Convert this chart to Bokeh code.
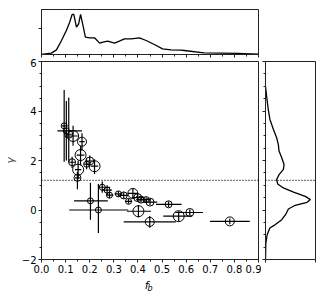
from bokeh.plotting import figure
from bokeh.layouts import column, row
from bokeh.models import Range1d, FixedTicker, Span, CustomJSTickFormatter
from bokeh.core.properties import value
from bokeh.embed import file_html
from bokeh.resources import INLINE

# ---------------- data ----------------
fb = [0.094, 0.103, 0.113, 0.131, 0.168, 0.162, 0.127, 0.152, 0.149, 0.200, 0.220, 0.187,
      0.252, 0.272, 0.282, 0.319, 0.341, 0.361, 0.379, 0.399, 0.413, 0.434, 0.450, 0.527,
      0.402, 0.449, 0.569, 0.615, 0.781, 0.203, 0.236]
gamma = [3.40, 3.20, 3.06, 2.99, 2.76, 2.22, 1.93, 1.63, 1.30, 1.98, 1.77, 1.85,
         0.92, 0.80, 0.60, 0.65, 0.59, 0.35, 0.67, 0.50, 0.42, 0.42, 0.32, 0.23,
         -0.05, -0.48, -0.25, -0.10, -0.46, 0.37, 0.00]
fb_lo = [0.084, 0.066, 0.100, 0.112, 0.157, 0.146, 0.113, 0.139, 0.139, 0.188, 0.205, 0.176,
         0.238, 0.255, 0.268, 0.303, 0.322, 0.346, 0.358, 0.375, 0.393, 0.414, 0.420, 0.475,
         0.355, 0.341, 0.505, 0.555, 0.699, 0.135, 0.115]
fb_hi = [0.104, 0.168, 0.126, 0.150, 0.179, 0.178, 0.141, 0.165, 0.159, 0.212, 0.235, 0.198,
         0.285, 0.292, 0.298, 0.335, 0.360, 0.376, 0.400, 0.423, 0.433, 0.454, 0.480, 0.581,
         0.454, 0.557, 0.625, 0.670, 0.864, 0.275, 0.360]
gamma_lo = [1.95, 2.00, 1.95, 2.60, 2.40, 1.80, 1.70, 1.25, 0.84, 1.75, 1.45, 1.65,
            0.70, 0.60, 0.48, 0.55, 0.45, 0.25, 0.45, 0.35, 0.30, 0.32, 0.20, 0.12,
            -0.30, -0.72, -0.45, -0.22, -0.58, -0.39, -0.93]
gamma_hi = [4.85, 4.40, 4.55, 3.40, 3.10, 2.60, 2.15, 2.00, 1.55, 2.20, 2.05, 2.05,
            1.15, 1.00, 0.72, 0.76, 0.72, 0.45, 0.88, 0.65, 0.55, 0.52, 0.44, 0.34,
            0.20, -0.24, -0.05, 0.02, -0.34, 1.10, 1.05]
marker_size = [6, 6, 8, 11, 9, 11, 7, 11, 7, 8, 11, 6,
               6, 6, 6, 6, 7, 6, 10, 8, 7, 6, 8, 7,
               11, 9, 11, 8, 9, 6, 6]

kde_fb = [0.0, 0.041, 0.062, 0.083, 0.103, 0.117, 0.127, 0.134, 0.145, 0.154, 0.162, 0.172,
          0.182, 0.2, 0.22, 0.241, 0.255, 0.275, 0.303, 0.323, 0.344, 0.372, 0.406, 0.434,
          0.468, 0.502, 0.537, 0.578, 0.592, 0.674, 0.743, 0.812, 0.9]
kde_fb_density = [0, 0.13, 0.45, 1.36, 2.33, 3.14, 3.89, 3.89, 2.66, 2.98, 3.89, 2.82,
                  1.68, 1.62, 1.62, 1.10, 1.20, 1.30, 1.10, 1.30, 1.52, 1.52, 1.62, 1.36,
                  0.97, 0.55, 0.45, 0.42, 0.39, 0.16, 0.13, 0.10, 0.03]

kde_gamma = [5.0, 4.62, 4.08, 3.67, 3.26, 2.92, 2.65, 2.38, 2.11, 1.84, 1.64, 1.43, 1.23,
             1.05, 0.89, 0.72, 0.55, 0.42, 0.31, 0.19, 0.04, -0.18, -0.39, -0.60, -0.73,
             -1.0, -1.35, -2.0]
kde_gamma_density = [0, 0.10, 0.26, 0.42, 0.75, 1.07, 1.23, 1.30, 1.56, 1.78, 1.72, 1.30, 1.07,
                     1.17, 1.72, 2.69, 3.82, 4.31, 3.99, 2.85, 2.20, 1.94, 1.56, 0.91, 0.42,
                     0.16, 0.03, 0]

gamma_threshold = 1.2

x_ticks = [0.0, 0.1, 0.2, 0.3, 0.4, 0.5, 0.6, 0.7, 0.8, 0.9]
x_tick_labels = ["0.0", "0.1", "0.2", "0.3", "0.4", "0.5", "0.6", "0.7", "0.8", "0.9"]
x_minor_ticks = [0.05, 0.15, 0.25, 0.35, 0.45, 0.55, 0.65, 0.75, 0.85]
y_ticks = [-2, 0, 2, 4, 6]
y_tick_labels = ["\u22122", "0", "2", "4", "6"]
y_minor_ticks = [-1.5, -1, -0.5, 0.5, 1, 1.5, 2.5, 3, 3.5, 4.5, 5, 5.5]
top_density_ticks = [2.5]
right_density_ticks = [0, 4.8]
x_label_main = "f"
x_label_sub = "b"
y_label = "\u03b3"

# ---------------- style ----------------
FONT = "DejaVu Sans"
EDGE = "#222222"
LEFT = 41       # left border of the left-column figures (page px)
FRAME_W = 217
xr = Range1d(0, 0.9)
yr = Range1d(-2, 6)
blank = CustomJSTickFormatter(code="return ''")


def style(p):
    p.outline_line_color = EDGE
    p.outline_line_width = 1
    p.xgrid.visible = False
    p.ygrid.visible = False
    p.background_fill_color = "white"
    p.border_fill_color = "white"
    for ax in p.axis:
        ax.axis_line_color = EDGE
        ax.major_tick_line_color = EDGE
        ax.minor_tick_line_color = EDGE
        ax.major_tick_in = 0
        ax.minor_tick_in = 0
        ax.major_tick_out = 3
        ax.minor_tick_out = 2
        ax.major_label_text_font = FONT
        ax.major_label_text_font_size = "10px"
        ax.major_label_text_color = "black"
        ax.major_label_standoff = 2


# top marginal
top = figure(width=LEFT + FRAME_W + 3, height=58, x_range=xr, y_range=Range1d(0, 4.37),
             output_backend="svg", toolbar_location=None, min_border_left=LEFT,
             min_border_right=3, min_border_top=9, min_border_bottom=4)
style(top)
top.xaxis.ticker = FixedTicker(ticks=x_ticks, minor_ticks=x_minor_ticks)
top.xaxis.formatter = blank
top.yaxis.ticker = FixedTicker(ticks=top_density_ticks, minor_ticks=[])
top.yaxis.formatter = blank
top.xaxis.major_label_text_font_size = "0px"
top.yaxis.major_label_text_font_size = "0px"
top.line(kde_fb, kde_fb_density, line_color="black", line_width=1.3)

# main scatter
main = figure(width=LEFT + FRAME_W + 3, height=218, x_range=xr, y_range=yr, output_backend="svg",
              toolbar_location=None, min_border_left=LEFT, min_border_right=3,
              min_border_top=3, min_border_bottom=17)
style(main)
main.xaxis.ticker = FixedTicker(ticks=x_ticks, minor_ticks=x_minor_ticks)
main.xaxis.major_label_overrides = dict(zip(x_ticks, x_tick_labels))
main.yaxis.ticker = FixedTicker(ticks=y_ticks, minor_ticks=y_minor_ticks)
main.yaxis.major_label_overrides = dict(zip(y_ticks, y_tick_labels))
main.yaxis.axis_label = y_label
main.yaxis.axis_label_text_font = FONT
main.yaxis.axis_label_text_font_style = "italic"
main.yaxis.axis_label_text_font_size = "11px"
main.yaxis.axis_label_standoff = 2

main.add_layout(Span(location=gamma_threshold, dimension="width", line_color="black",
                     line_width=1.2, line_dash="1 2"))
main.segment(x0=fb_lo, y0=gamma, x1=fb_hi, y1=gamma, line_color="black", line_width=1.2)
main.segment(x0=fb, y0=gamma_lo, x1=fb, y1=gamma_hi, line_color="black", line_width=1.2)
main.scatter(x=fb, y=gamma, size=marker_size, marker="circle", fill_color=None,
             line_color="black", line_width=1.0)

# x-axis label strip (italic f with subscript b)
lab = figure(width=LEFT + FRAME_W + 3, height=16, x_range=xr, y_range=Range1d(0, 1),
             output_backend="svg", toolbar_location=None, min_border_left=LEFT,
             min_border_right=3, min_border_top=0, min_border_bottom=0,
             x_axis_location=None, y_axis_location=None)
lab.outline_line_color = None
lab.xgrid.visible = False
lab.ygrid.visible = False
xc = (xr.start + xr.end) / 2
lab.text(x=[xc - 0.014], y=[0.45], text=[x_label_main], text_font=value(FONT),
         text_font_style="italic", text_font_size="11px", text_align="center",
         text_baseline="middle", text_color="black")
lab.text(x=[xc + 0.0], y=[0.25], text=[x_label_sub], text_font=value(FONT),
         text_font_style="italic", text_font_size="8px", text_align="center",
         text_baseline="middle", text_color="black")

# right marginal
right = figure(width=56, height=218, x_range=Range1d(0, 4.8), y_range=yr, output_backend="svg",
               toolbar_location=None, min_border_left=4, min_border_right=2,
               min_border_top=3, min_border_bottom=17)
style(right)
right.xaxis.ticker = FixedTicker(ticks=right_density_ticks, minor_ticks=[])
right.xaxis.formatter = blank
right.yaxis.ticker = FixedTicker(ticks=y_ticks, minor_ticks=y_minor_ticks)
right.yaxis.formatter = blank
right.xaxis.major_label_text_font_size = "0px"
right.yaxis.major_label_text_font_size = "0px"
right.add_layout(Span(location=gamma_threshold, dimension="width", line_color="black",
                      line_width=1.2, line_dash="1 2"))
right.line(kde_gamma_density, kde_gamma, line_color="black", line_width=1.3)

layout = column(top, row(main, right, spacing=0), lab, spacing=0)
open("out.html", "w").write(file_html(layout, INLINE))
